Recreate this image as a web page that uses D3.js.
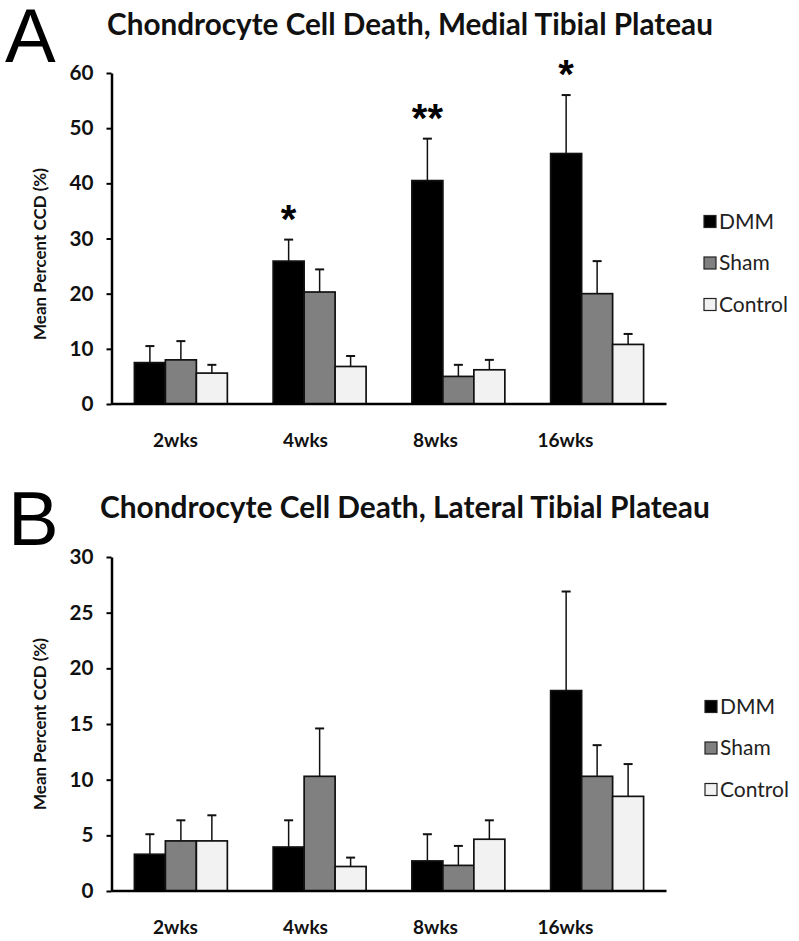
<!DOCTYPE html>
<html>
<head>
<meta charset="utf-8">
<script src="https://cdn.jsdelivr.net/npm/d3@7"></script>
<style>
  body { margin: 0; background: #fff; }
  svg { display: block; }
</style>
</head>
<body>
<svg id="chart" width="799" height="941"></svg>
<script>
const categories = ["2wks", "4wks", "8wks", "16wks"];
const series = ["DMM", "Sham", "Control"];
const seriesColors = ["#000000", "#808080", "#f2f2f2"];

// Panel A: Medial tibial plateau
const medialMean = {
  DMM:     [7.5, 25.9, 40.5, 45.4],
  Sham:    [8.0, 20.3, 5.0, 20.0],
  Control: [5.6, 6.8, 6.2, 10.8]
};
const medialErrTop = {
  DMM:     [10.5, 29.8, 48.1, 56.0],
  Sham:    [11.4, 24.4, 7.1, 25.9],
  Control: [7.1, 8.7, 8.0, 12.7]
};
const medialSig = ["", "*", "**", "*"];
const medialTicks = [0, 10, 20, 30, 40, 50, 60];

// Panel B: Lateral tibial plateau
const lateralMean = {
  DMM:     [3.3, 3.95, 2.7, 18.0],
  Sham:    [4.5, 10.3, 2.3, 10.3],
  Control: [4.5, 2.2, 4.65, 8.5]
};
const lateralErrTop = {
  DMM:     [5.1, 6.35, 5.1, 26.9],
  Sham:    [6.35, 14.6, 4.05, 13.1],
  Control: [6.8, 3.0, 6.35, 11.4]
};
const lateralSig = ["", "", "", ""];
const lateralTicks = [0, 5, 10, 15, 20, 25, 30];

const svg = d3.select("#chart");
const FONT = "Lato, 'Open Sans', sans-serif";

// scale a font-size so a reference text reaches a target width
function fitSize(text, weight, baseSize, target) {
  const t = svg.append("text").attr("font-family", FONT).attr("font-weight", weight)
    .attr("font-size", baseSize).text(text);
  const w = t.node().getComputedTextLength();
  t.remove();
  return baseSize * target / w;
}
const titleSizeA = fitSize("Chondrocyte Cell Death, Medial Tibial Plateau", "bold", 24, 606);
const titleSizeB = fitSize("Chondrocyte Cell Death, Lateral Tibial Plateau", "bold", 24, 610);
const yTitleSize = fitSize("Mean Percent CCD (%)", "bold", 16, 172);
const xLabelSize = fitSize("16wks", "bold", 16, 56);
const yTickSize = fitSize("60", "bold", 16, 24);
const legendSize = fitSize("Control", "normal", 16, 69);

function drawPanel(cfg) {
  const g = svg.append("g");
  const y = d3.scaleLinear().domain([0, cfg.ticks[cfg.ticks.length - 1]]).range([cfg.y0, cfg.y1]);
  const x = d3.scaleBand().domain(categories).range([111.5, 666.5]).paddingInner(0.33).paddingOuter(0.165);
  const xs = d3.scaleBand().domain(series).range([0, x.bandwidth()]);
  const xl = d3.scaleBand().domain(categories).range([110.5, 630.5]);

  // panel letter
  g.append("text").attr("x", cfg.letterX).attr("y", cfg.letterY)
    .attr("font-family", "'Liberation Sans', Arial, sans-serif").attr("font-size", 76)
    .attr("fill", "#000").text(cfg.letter);

  // title
  g.append("text").attr("x", cfg.titleX).attr("y", cfg.titleY)
    .attr("font-family", FONT).attr("font-weight", "bold").attr("font-size", cfg.titleSize)
    .attr("fill", "#111").text(cfg.title);

  // bars
  series.forEach((s, si) => {
    const grp = g.append("g");
    grp.selectAll("rect").data(categories).enter().append("rect")
      .attr("x", d => x(d) + xs(s))
      .attr("width", xs.bandwidth())
      .attr("y", (d, i) => y(cfg.mean[s][i]))
      .attr("height", (d, i) => y(0) - y(cfg.mean[s][i]))
      .attr("fill", seriesColors[si])
      .attr("stroke", "#111").attr("stroke-width", 1.7);
    // error bars (upper only)
    grp.selectAll("line.err").data(categories).enter().append("line").attr("class", "err")
      .attr("x1", d => x(d) + xs(s) + xs.bandwidth() / 2)
      .attr("x2", d => x(d) + xs(s) + xs.bandwidth() / 2)
      .attr("y1", (d, i) => y(cfg.mean[s][i]))
      .attr("y2", (d, i) => y(cfg.err[s][i]))
      .attr("stroke", "#111").attr("stroke-width", 1.5);
    grp.selectAll("line.cap").data(categories).enter().append("line").attr("class", "cap")
      .attr("x1", d => x(d) + xs(s) + xs.bandwidth() / 2 - 4.5)
      .attr("x2", d => x(d) + xs(s) + xs.bandwidth() / 2 + 4.5)
      .attr("y1", (d, i) => y(cfg.err[s][i]))
      .attr("y2", (d, i) => y(cfg.err[s][i]))
      .attr("stroke", "#111").attr("stroke-width", 2);
  });

  // significance stars
  g.selectAll("text.sig").data(categories).enter().append("text").attr("class", "sig")
    .attr("x", d => x(d) + xs("DMM") + xs.bandwidth() / 2)
    .attr("y", (d, i) => y(cfg.err.DMM[i]) - 7)
    .attr("text-anchor", "middle")
    .attr("font-family", "'Liberation Sans', Arial, sans-serif").attr("font-weight", "bold")
    .attr("font-size", 40).attr("fill", "#000")
    .text((d, i) => cfg.sig[i]);

  // y axis
  const yAxis = d3.axisLeft(y).tickValues(cfg.ticks).tickSize(5).tickPadding(13).tickSizeOuter(0);
  const ya = g.append("g").attr("transform", "translate(111.5,0)").call(yAxis);
  ya.select(".domain").attr("stroke", "#000").attr("stroke-width", 2.5);
  ya.selectAll(".tick line").attr("stroke", "#000").attr("stroke-width", 2);
  ya.selectAll(".tick text").attr("font-family", FONT).attr("font-weight", "bold")
    .attr("font-size", yTickSize).attr("fill", "#111");

  // x axis baseline
  g.append("line").attr("x1", 111.5).attr("x2", 666.5).attr("y1", y(0)).attr("y2", y(0))
    .attr("stroke", "#000").attr("stroke-width", 2.5);

  // x labels
  g.selectAll("text.xl").data(categories).enter().append("text").attr("class", "xl")
    .attr("x", d => xl(d) + xl.bandwidth() / 2)
    .attr("y", cfg.xLabelY)
    .attr("text-anchor", "middle")
    .attr("font-family", FONT).attr("font-weight", "bold").attr("font-size", xLabelSize)
    .attr("fill", "#111").text(d => d);

  // y title
  g.append("text")
    .attr("transform", `translate(${cfg.yTitleX},${cfg.yTitleC}) rotate(-90)`)
    .attr("text-anchor", "middle")
    .attr("font-family", FONT).attr("font-weight", "bold").attr("font-size", yTitleSize)
    .attr("fill", "#111").text("Mean Percent CCD (%)");

  // legend
  const leg = g.selectAll("g.leg").data(series).enter().append("g").attr("class", "leg")
    .attr("transform", (d, i) => `translate(${cfg.legX},${cfg.legY + i * 41.5})`);
  leg.append("rect").attr("x", 0).attr("y", -6.5).attr("width", 12).attr("height", 12)
    .attr("fill", (d, i) => seriesColors[i]).attr("stroke", "#222").attr("stroke-width", 1.2);
  leg.append("text").attr("x", 15).attr("y", 6.5)
    .attr("font-family", FONT).attr("font-size", legendSize).attr("fill", "#222")
    .text(d => d);
}

drawPanel({
  letter: "A", letterX: 5, letterY: 62,
  title: "Chondrocyte Cell Death, Medial Tibial Plateau", titleX: 107, titleY: 35, titleSize: titleSizeA,
  mean: medialMean, err: medialErrTop, sig: medialSig, ticks: medialTicks,
  y0: 404, y1: 73, xLabelY: 447, yTitleX: 46, yTitleC: 254,
  legX: 704, legY: 222
});

drawPanel({
  letter: "B", letterX: 8, letterY: 545,
  title: "Chondrocyte Cell Death, Lateral Tibial Plateau", titleX: 100, titleY: 518, titleSize: titleSizeB,
  mean: lateralMean, err: lateralErrTop, sig: lateralSig, ticks: lateralTicks,
  y0: 891, y1: 557, xLabelY: 934, yTitleX: 46, yTitleC: 724,
  legX: 705, legY: 707
});
</script>
</body>
</html>
